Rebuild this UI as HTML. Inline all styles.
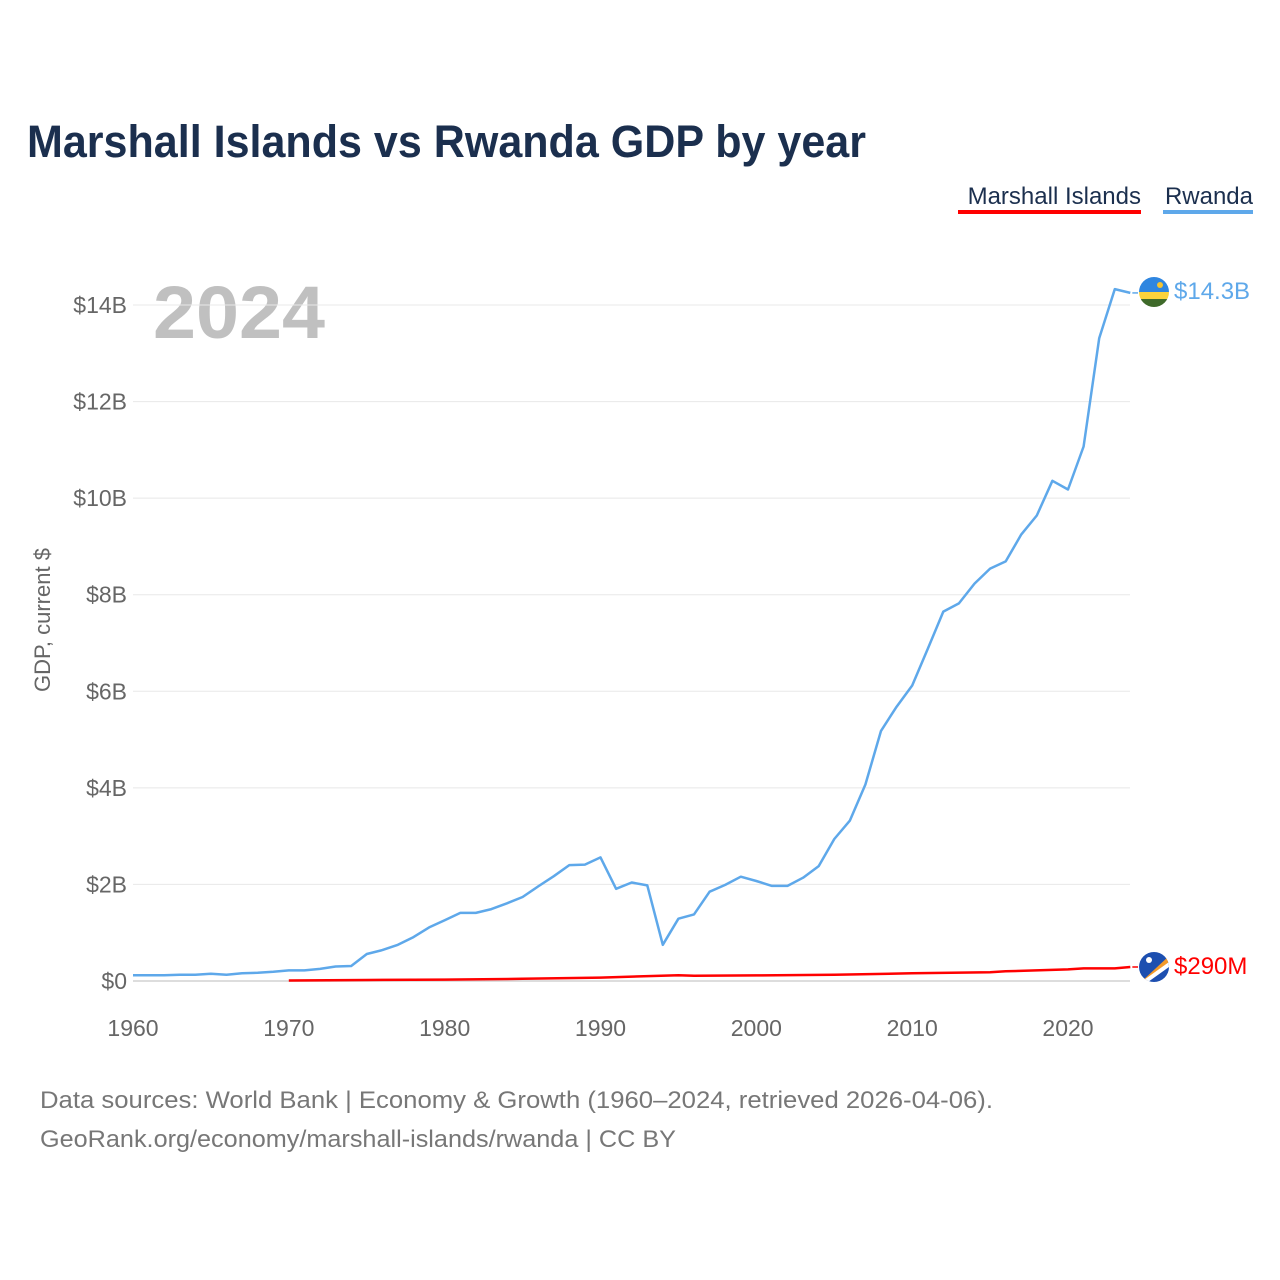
<!DOCTYPE html>
<html><head><meta charset="utf-8"><style>
body{margin:0;background:#fff;font-family:"Liberation Sans",sans-serif;}
#wrap{position:relative;width:1280px;height:1280px;overflow:hidden}
</style></head><body>
<div id="wrap">
<svg id="chart" width="1280" height="1280" xmlns="http://www.w3.org/2000/svg">
<text x="27" y="157" font-size="45" font-weight="bold" fill="#1b2f4e" textLength="839" lengthAdjust="spacingAndGlyphs">Marshall Islands vs Rwanda GDP by year</text>
<g>
<text x="1141" y="204" text-anchor="end" font-size="24" fill="#1b2f4e">Marshall Islands</text>
<rect x="958" y="210" width="183" height="4" fill="#ff0000"/></g>
<g>
<text x="1253" y="204" text-anchor="end" font-size="24" fill="#1b2f4e">Rwanda</text>
<rect x="1163" y="210" width="90" height="4" fill="#5ea8ea"/></g>
<text x="153" y="338" font-size="74" font-weight="bold" fill="#c0c0c0" textLength="172" lengthAdjust="spacingAndGlyphs">2024</text>
<text transform="translate(50,620) rotate(-90)" text-anchor="middle" font-size="22" fill="#666">GDP, current $</text>
<g id="grid"></g><g id="yt"></g><g id="xt"></g><g id="lines"></g>
<g>
<clipPath id="c1"><circle cx="1154" cy="292" r="15"/></clipPath>
<g clip-path="url(#c1)"><rect x="1139" y="277" width="30" height="15" fill="#2f86e0"/><rect x="1139" y="292" width="30" height="7" fill="#fbd33c"/><rect x="1139" y="299" width="30" height="8" fill="#3f6a2a"/><circle cx="1160" cy="285" r="3" fill="#f5c330"/></g></g>
<text x="1174" y="299" font-size="24" fill="#5ea8ea">$14.3B</text>
<g>
<clipPath id="c2"><circle cx="1154" cy="967" r="15"/></clipPath>
<g clip-path="url(#c2)"><rect x="1139" y="952" width="30" height="30" fill="#1d4fb0"/><polygon points="1141,982 1169,956 1169,962 1145,982" fill="#f39a2a"/><polygon points="1141,982 1169,962 1169,967 1148,982" fill="#fff"/><circle cx="1149" cy="960" r="3" fill="#fff"/></g></g>
<text x="1174" y="974" font-size="24" fill="#ff0000">$290M</text>
<text x="40" y="1108" font-size="24" fill="#777" textLength="953" lengthAdjust="spacingAndGlyphs">Data sources: World Bank | Economy &amp; Growth (1960–2024, retrieved 2026-04-06).</text>
<text x="40" y="1147" font-size="24" fill="#777" textLength="636" lengthAdjust="spacingAndGlyphs">GeoRank.org/economy/marshall-islands/rwanda | CC BY</text>
</svg>
</div>
<script>
const rwYears=[1960,1961,1962,1963,1964,1965,1966,1967,1968,1969,1970,1971,1972,1973,1974,1975,1976,1977,1978,1979,1980,1981,1982,1983,1984,1985,1986,1987,1988,1989,1990,1991,1992,1993,1994,1995,1996,1997,1998,1999,2000,2001,2002,2003,2004,2005,2006,2007,2008,2009,2010,2011,2012,2013,2014,2015,2016,2017,2018,2019,2020,2021,2022,2023,2024];
const rwanda=[0.12,0.12,0.12,0.13,0.13,0.15,0.13,0.16,0.17,0.19,0.22,0.22,0.25,0.30,0.31,0.56,0.64,0.75,0.91,1.11,1.26,1.41,1.41,1.49,1.61,1.74,1.96,2.17,2.40,2.41,2.56,1.91,2.04,1.98,0.75,1.29,1.38,1.85,1.99,2.16,2.07,1.97,1.97,2.14,2.38,2.94,3.32,4.07,5.18,5.68,6.12,6.88,7.65,7.82,8.23,8.54,8.69,9.25,9.64,10.36,10.18,11.07,13.31,14.33,14.25];
const miYears=[1970,1975,1980,1985,1990,1995,1996,2000,2005,2010,2015,2016,2020,2021,2023,2024];
const marshall=[0.01,0.02,0.03,0.045,0.07,0.12,0.11,0.115,0.13,0.16,0.18,0.2,0.24,0.26,0.26,0.29];
const yTicks=[0,2,4,6,8,10,12,14];
const yTickLabels=["$0","$2B","$4B","$6B","$8B","$10B","$12B","$14B"];
const xTicks=[1960,1970,1980,1990,2000,2010,2020];
const NS="http://www.w3.org/2000/svg";
const xs=y=>133+(y-1960)*(935/60);
const ys=v=>981-v*(676/14);
function mk(t,a,p){const e=document.createElementNS(NS,t);for(const k in a)e.setAttribute(k,a[k]);document.getElementById(p).appendChild(e);return e;}
yTicks.forEach((v,i)=>{
 const g=mk('line',{x1:133,x2:1130,y1:ys(v),y2:ys(v),stroke:v===0?'#ddd':'#e8e8e8','stroke-width':v===0?2:1},'grid');
 
 
 const t=mk('text',{x:127,y:ys(v)+8,'text-anchor':'end','font-size':23,fill:'#666'},'yt');
 t.textContent=yTickLabels[i];
 
 
});
xTicks.forEach(y=>{
 const t=mk('text',{x:xs(y),y:1036,'text-anchor':'middle','font-size':23,fill:'#666'},'xt');
 t.textContent=y;
 
 
});
function line(yr,vals,col,name){
 const d=yr.map((y,i)=>(i?'L':'M')+xs(y).toFixed(1)+','+ys(vals[i]).toFixed(1)).join('');
 const p=mk('path',{d:d,fill:'none',stroke:col,'stroke-width':2.5,'stroke-linejoin':'round'},'lines');
 
 
 const last=yr.length-1;
 const c=mk('line',{x1:xs(yr[last])+2,y1:ys(vals[last]),x2:1138,y2:ys(vals[last]),stroke:col,'stroke-width':1.5},'lines');
 
 
}
line(rwYears,rwanda,'#5ea8ea','rwanda-line');
line(miYears,marshall,'#ff0000','marshall-islands-line');
</script>
</body></html>
